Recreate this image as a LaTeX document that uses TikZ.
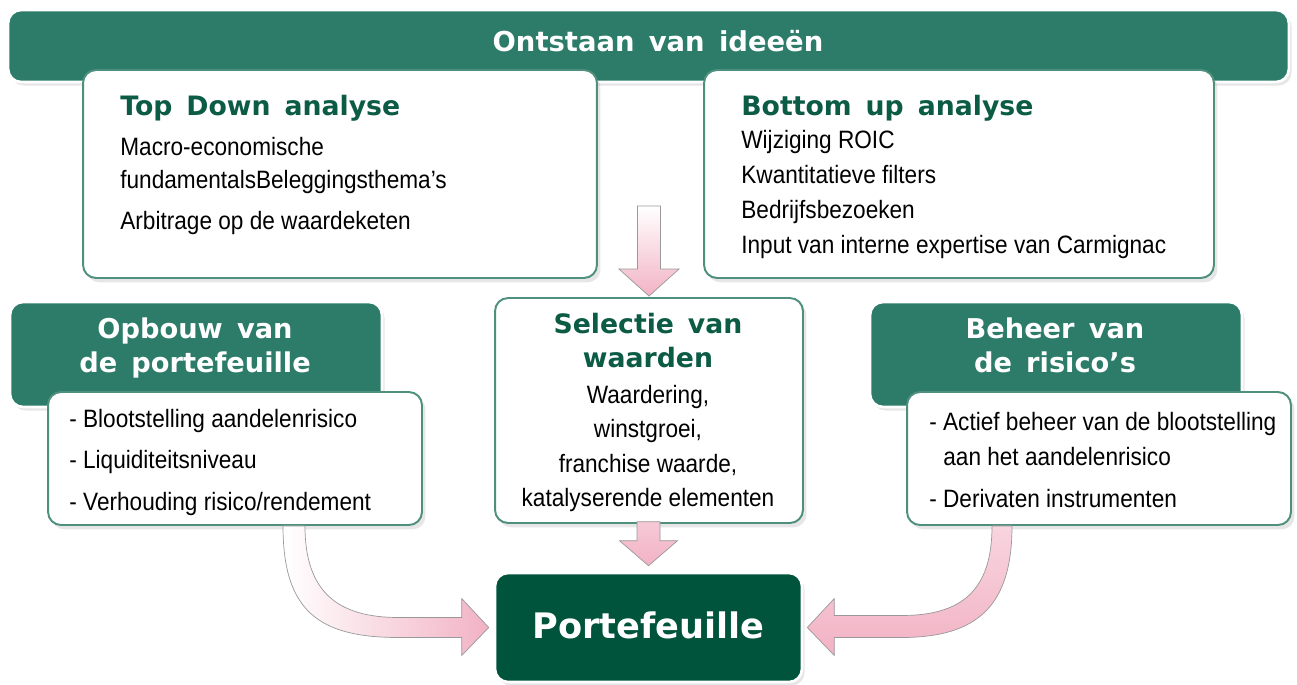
\documentclass[tikz,border=0pt]{standalone}
\usepackage{fontspec}
\setmainfont{Liberation Sans}[FakeStretch=0.9]
\newfontfamily\headfont{DejaVu Sans}[WordSpace=1.5]
\usetikzlibrary{calc,shadows}

\definecolor{hdrgreen}{HTML}{2D7C6A}
\definecolor{darkgreen}{HTML}{00543B}
\definecolor{titlegreen}{HTML}{0C5B44}
\definecolor{edgegreen}{HTML}{4E907D}
\definecolor{arrowpink}{HTML}{F2B2C4}

\begin{document}
\begin{tikzpicture}[
		x=0.02cm, y=-0.02cm,
		hdr/.style={fill=hdrgreen, draw=white, line width=1.5pt, rounded corners=0.26cm, inner sep=0pt,
			drop shadow={opacity=0.2, shadow xshift=1.5pt, shadow yshift=-2pt}},
		panel/.style={fill=white, draw=edgegreen, line width=1.1pt, rounded corners=0.26cm, inner sep=0pt,
			drop shadow={opacity=0.2, shadow xshift=2pt, shadow yshift=-2.5pt}},
		hdrtext/.style={text=white, font=\headfont\bfseries\fontsize{15.5}{18}\selectfont, anchor=base, inner sep=0pt},
		ttl/.style={text=titlegreen, font=\headfont\bfseries\fontsize{15.2}{18}\selectfont, inner sep=0pt},
		txt/.style={font=\fontsize{14.3}{17}\selectfont, inner sep=0pt},
		fatarrow/.style={draw=black!40, line width=0.4pt},
	]
	\useasboundingbox (0,0) rectangle (1297,684);

	% top band and the two analyses
	\node (idea) [hdr, minimum width=25.62cm, minimum height=1.44cm] at (648.5,46) {};
	\node (ideatext) [hdrtext, font=\headfont\bfseries\fontsize{15.6}{19}\selectfont] at (658,51) {Ontstaan van ideeën};

	\node (topdown) [panel, minimum width=10.28cm, minimum height=4.16cm] at (340,174) {};
	\node (tdtitle) [ttl, anchor=base west] at (120,115) {Top Down analyse};
	\node (td1) [txt, anchor=base west] at (120,155) {Macro-economische};
	\node (td2) [txt, anchor=base west] at (120,188) {fundamentalsBeleggingsthema’s};
	\node (td3) [txt, anchor=base west] at (120,229) {Arbitrage op de waardeketen};

	\node (bottomup) [panel, minimum width=10.2cm, minimum height=4.16cm] at (959,174) {};
	\node (butitle) [ttl, anchor=base west] at (741,115) {Bottom up analyse};
	\node (bu1) [txt, anchor=base west] at (741,148) {Wijziging ROIC};
	\node (bu2) [txt, anchor=base west] at (741,183) {Kwantitatieve filters};
	\node (bu3) [txt, anchor=base west] at (741,218) {Bedrijfsbezoeken};
	\node (bu4) [txt, anchor=base west] at (741,253) {Input van interne expertise van Carmignac};

	% portfolio construction
	\node (opbhdr) [hdr, minimum width=7.44cm, minimum height=2.1cm] at (196,354.5) {};
	\node (opbt1) [hdrtext] at (195,338) {Opbouw van};
	\node (opbt2) [hdrtext] at (195,372) {de portefeuille};
	\node (opbbody) [panel, minimum width=7.48cm, minimum height=2.66cm] at (235,458.5) {};
	\node (opb1) [txt, anchor=base west] at (69,427) {- Blootstelling aandelenrisico};
	\node (opb2) [txt, anchor=base west] at (69,468) {- Liquiditeitsniveau};
	\node (opb3) [txt, anchor=base west] at (69,510) {- Verhouding risico/rendement};

	% stock selection
	\node (sel) [panel, minimum width=6.16cm, minimum height=4.5cm] at (649,410.5) {};
	\node (selt1) [ttl, anchor=base] at (648,333) {Selectie van};
	\node (selt2) [ttl, anchor=base] at (648,367) {waarden};
	\node (sel1) [txt, anchor=base] at (648,403) {Waardering,};
	\node (sel2) [txt, anchor=base] at (648,437) {winstgroei,};
	\node (sel3) [txt, anchor=base] at (648,472) {franchise waarde,};
	\node (sel4) [txt, anchor=base] at (648,506) {katalyserende elementen};

	% risk management
	\node (behhdr) [hdr, minimum width=7.44cm, minimum height=2.1cm] at (1056,354.5) {};
	\node (beht1) [hdrtext] at (1055,338) {Beheer van};
	\node (beht2) [hdrtext] at (1055,372) {de risico’s};
	\node (behbody) [panel, minimum width=7.68cm, minimum height=2.66cm] at (1099,458.5) {};
	\node (beh1) [txt, anchor=base west] at (929,430) {- Actief beheer van de blootstelling};
	\node (beh2) [txt, anchor=base west] at (943,465) {aan het aandelenrisico};
	\node (beh3) [txt, anchor=base west] at (929,507) {- Derivaten instrumenten};

	% result
	\node (port) [hdr, fill=darkgreen, minimum width=6.14cm, minimum height=2.18cm] at (648.5,627.5) {};
	\node (porttext) [hdrtext, font=\headfont\bfseries\fontsize{20}{24}\selectfont] at (648.5,638) {Portefeuille};

	% straight arrows
	\path[fatarrow, top color=white, bottom color=arrowpink] (sel.north) ++(0,-1)
		-- ++(-30,-27) -- ++(18.5,0) -- ++(0,-63) -- ++(23,0) -- ++(0,63) -- ++(18.5,0) -- cycle;
	\path[fatarrow, top color=arrowpink!70, bottom color=arrowpink] ($(port.north)+(0,-6)$)
		-- ++(-29,-25) -- ++(17.5,0) -- ++(0,-19) -- ++(23,0) -- ++(0,19) -- ++(17.5,0) -- cycle;

	% curved arrows
	\coordinate (ls) at ($(opbbody.south)+(48,0)$);
	\coordinate (lt) at ($(port.west)+(-5,0)$);
	\path[fatarrow, left color=white, right color=arrowpink] (ls)
		.. controls ($(ls)+(0,85)$) and ($(lt)+(-170,10)$) .. ($(lt)+(-90,10)$)
		-- ($(lt)+(-27,10)$) -- ($(lt)+(-27,28)$) -- (lt) -- ($(lt)+(-27,-29)$) -- ($(lt)+(-27,-10)$)
		-- ($(lt)+(-90,-10)$) .. controls ($(lt)+(-150,-10)$) and ($(ls)+(22,67)$) .. ($(ls)+(22,0)$) -- cycle;

	\coordinate (rs) at ($(behbody.south)+(-87,0)$);
	\coordinate (rt) at ($(port.east)+(4,0)$);
	\path[fatarrow, top color=arrowpink!55, bottom color=arrowpink] (rs)
		.. controls ($(rs)+(0,80)$) and ($(rt)+(170,10)$) .. ($(rt)+(94,10)$)
		-- ($(rt)+(27,10)$) -- ($(rt)+(27,28)$) -- (rt) -- ($(rt)+(27,-29)$) -- ($(rt)+(27,-12)$)
		-- ($(rt)+(94,-12)$) .. controls ($(rt)+(154,-12)$) and ($(rs)+(-20,65)$) .. ($(rs)+(-20,0)$) -- cycle;
\end{tikzpicture}
\end{document}
